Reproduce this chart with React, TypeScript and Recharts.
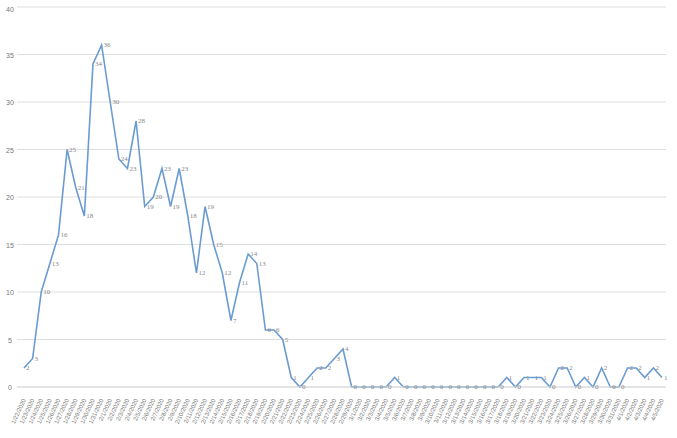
import React from "react";
import { LineChart, Line, XAxis, YAxis, CartesianGrid, LabelList } from "recharts";

const dates: string[] = [
  "1/22/2020","1/23/2020","1/24/2020","1/25/2020","1/26/2020","1/27/2020","1/28/2020","1/29/2020","1/30/2020","1/31/2020",
  "2/1/2020","2/2/2020","2/3/2020","2/4/2020","2/5/2020","2/6/2020","2/7/2020","2/8/2020","2/9/2020","2/10/2020",
  "2/11/2020","2/12/2020","2/13/2020","2/14/2020","2/15/2020","2/16/2020","2/17/2020","2/18/2020","2/19/2020","2/20/2020",
  "2/21/2020","2/22/2020","2/23/2020","2/24/2020","2/25/2020","2/26/2020","2/27/2020","2/28/2020","2/29/2020",
  "3/1/2020","3/2/2020","3/3/2020","3/4/2020","3/5/2020","3/6/2020","3/7/2020","3/8/2020","3/9/2020","3/10/2020",
  "3/11/2020","3/12/2020","3/13/2020","3/14/2020","3/15/2020","3/16/2020","3/17/2020","3/18/2020","3/19/2020","3/20/2020",
  "3/21/2020","3/22/2020","3/23/2020","3/24/2020","3/25/2020","3/26/2020","3/27/2020","3/28/2020","3/29/2020","3/30/2020",
  "3/31/2020","4/1/2020","4/2/2020","4/3/2020","4/4/2020","4/5/2020"
];

const cases: number[] = [
  2, 3, 10, 13, 16, 25, 21, 18, 34, 36,
  30, 24, 23, 28, 19, 20, 23, 19, 23, 18,
  12, 19, 15, 12, 7, 11, 14, 13, 6, 6,
  5, 1, 0, 1, 2, 2, 3, 4, 0,
  0, 0, 0, 0, 1, 0, 0, 0, 0,
  0, 0, 0, 0, 0, 0, 0, 0, 1, 0,
  1, 1, 1, 0, 2, 2, 0, 1, 0, 2,
  0, 0, 2, 2, 1, 2, 1
];

const yTicks: number[] = [0, 5, 10, 15, 20, 25, 30, 35, 40];

const data = dates.map((d, i) => ({ date: d, value: cases[i] }));

const XTick = (props: any) => {
  const { x, y, payload } = props;
  return (
    <g transform={`translate(${x + 2},${y + 5})`}>
      <text
        x={0}
        y={0}
        transform="rotate(-65)"
        textAnchor="end"
        fontSize={6}
        fill="#777"
        fontFamily="Liberation Sans, Arial, sans-serif"
      >
        {payload.value}
      </text>
    </g>
  );
};

const YTick = (props: any) => {
  const { y, payload } = props;
  return (
    <text
      x={10}
      y={y + 3}
      textAnchor="middle"
      fontSize={7}
      fill="#777"
      fontFamily="Liberation Sans, Arial, sans-serif"
    >
      {payload.value}
    </text>
  );
};

export default function App() {
  return (
    <div style={{ position: "absolute", left: 0, top: 0, background: "#fff" }}>
      <LineChart
        width={677}
        height={438}
        data={data}
        margin={{ top: 7, right: 11, left: 0, bottom: 0 }}
      >
        <CartesianGrid vertical={false} stroke="#dedede" strokeWidth={1} />
        <XAxis
          dataKey="date"
          interval={0}
          tick={<XTick />}
          tickLine={false}
          axisLine={{ stroke: "#d9d9d9" }}
          height={51}
          padding={{ left: 7, right: 4 }}
        />
        <YAxis
          domain={[0, 40]}
          ticks={yTicks}
          width={17}
          tick={<YTick />}
          axisLine={false}
          tickLine={false}
        />
        <Line
          type="linear"
          dataKey="value"
          stroke="#6a9bd1"
          strokeWidth={1.6}
          dot={false}
          isAnimationActive={false}
        >
          <LabelList
            dataKey="value"
            position="right"
            offset={2}
            fontSize={7}
            fill="#888"
            fontFamily="Liberation Serif, serif"
          />
        </Line>
      </LineChart>
    </div>
  );
}
